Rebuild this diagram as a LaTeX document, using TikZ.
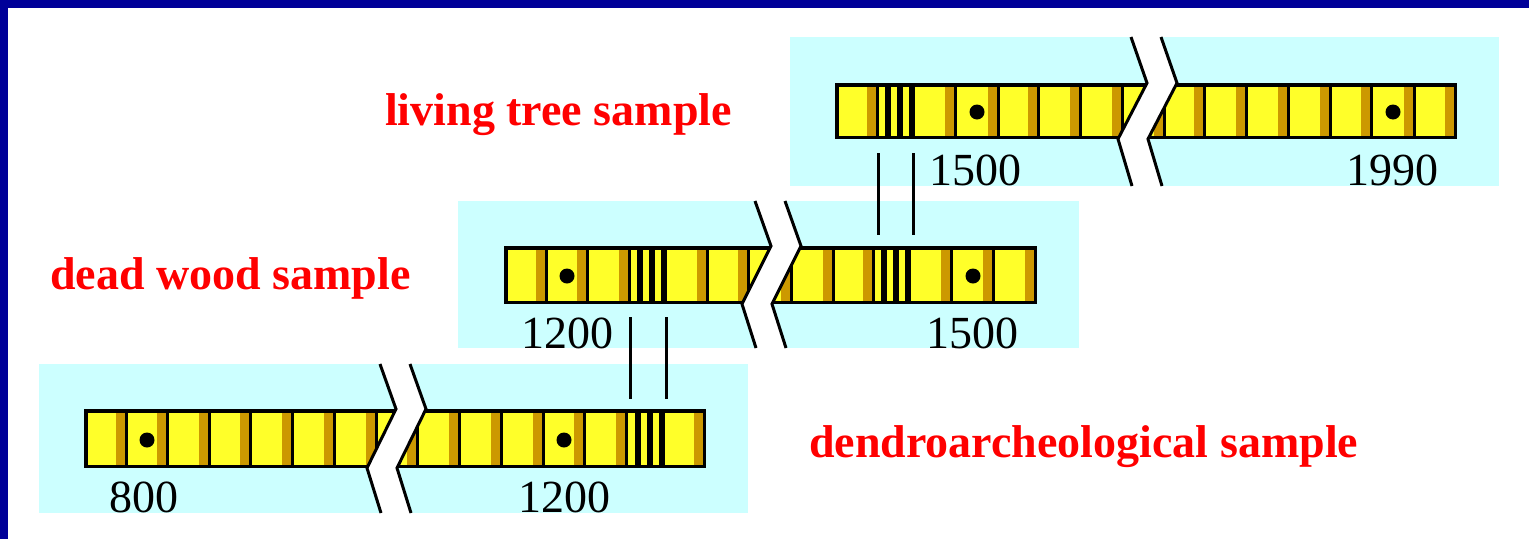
\documentclass[tikz,border=0pt]{standalone}
\usepackage{fontspec}
\setmainfont{Liberation Serif}
\definecolor{frameblue}{HTML}{000099}
\definecolor{skycyan}{HTML}{CCFFFF}
\definecolor{ringyellow}{HTML}{FFFF29}
\definecolor{ringdark}{HTML}{CC9900}
\definecolor{labelred}{HTML}{FF0000}
\tikzset{
  yearlabel/.style={anchor=base, inner sep=0pt, font=\fontsize{46}{46}\selectfont},
  samplelabel/.style={anchor=base west, inner sep=0pt, text=labelred, font=\fontsize{46}{46}\selectfont\bfseries},
  tieline/.style={line width=3pt},
  breakline/.style={line width=3pt, line join=miter},
  barborder/.style={line width=3.5pt},
}
% #1 x0, #2 x1, #3 ytop, #4 ybot, #5 normal cell ends, #6 ring cell ends
\newcommand\drawtreebar[6]{%
  \fill[ringyellow] (#1,#3) rectangle (#2,#4);
  \foreach \e in {#5} {
    \fill[ringdark] (\e-12,#3) rectangle (\e-3,#4);
    \fill[black] (\e-3,#3) rectangle (\e,#4);
  }
  \foreach \e in {#6} {
    \foreach \k in {0,12,24} {
      \fill[black] (\e-6-\k,#3) rectangle (\e-\k,#4);
    }
  }
  \draw[barborder] (#1+1.75,#3+1.75) rectangle (#2-1.75,#4-1.75);
}
% #1 T, #2 panel top, #3 bar top, #4 bar bottom, #5 panel bottom
\newcommand\barbreak[5]{%
  \fill[white] (#1,#2) -- (#1+16,#3) -- (#1-13,#4) -- (#1+1,#5)
     -- (#1+31,#5) -- (#1+17,#4) -- (#1+46,#3) -- (#1+30,#2) -- cycle;
  \draw[breakline] (#1,#2) -- (#1+16,#3) -- (#1-13,#4) -- (#1+1,#5);
  \draw[breakline] (#1+30,#2) -- (#1+46,#3) -- (#1+17,#4) -- (#1+31,#5);
}
\begin{document}
\begin{tikzpicture}[x=1pt,y=-1pt]
\useasboundingbox (0,0) rectangle (1529,539);
\fill[white] (0,0) rectangle (1529,539);
\fill[frameblue] (0,0) rectangle (1529,8);
\fill[frameblue] (0,0) rectangle (8,539);

% panels
\fill[skycyan] (790,37) rectangle (1499,186);
\fill[skycyan] (458,201) rectangle (1079,348);
\fill[skycyan] (39,364) rectangle (748,513);

% living tree sample bar
\drawtreebar{835}{1457}{83}{139}{879,957,1000,1040,1082,1124,1166,1206,1248,1290,1332,1373,1416,1457}{915}
\fill[black] (977,112) circle[radius=7.5pt];
\fill[black] (1393,112) circle[radius=7.5pt];
\barbreak{1131}{37}{83}{139}{186}

% dead wood sample bar
\drawtreebar{504}{1037}{246}{304}{548,589,631,709,750,793,835,875,953,995,1037}{667,911}
\fill[black] (567,276) circle[radius=7.5pt];
\fill[black] (973,276) circle[radius=7.5pt];
\barbreak{755}{201}{246}{304}{348}

% dendroarcheological sample bar
\drawtreebar{84}{706}{409}{468}{128,169,211,252,294,336,378,419,461,503,545,586,628,706}{665}
\fill[black] (147,440) circle[radius=7.5pt];
\fill[black] (564,440) circle[radius=7.5pt];
\barbreak{380}{364}{409}{468}{513}

% tie lines
\coordinate (tA1) at (878,153); \coordinate (mA1) at (878,235);
\coordinate (tA2) at (913,153); \coordinate (mA2) at (913,235);
\coordinate (mB1) at (630,317); \coordinate (bB1) at (630,399);
\coordinate (mB2) at (666,317); \coordinate (bB2) at (666,399);
\draw[tieline] (tA1) -- (mA1);
\draw[tieline] (tA2) -- (mA2);
\draw[tieline] (mB1) -- (bB1);
\draw[tieline] (mB2) -- (bB2);

% years
\node[yearlabel] (yTop1) at (975,185) {1500};
\node[yearlabel] (yTop2) at (1392,185) {1990};
\node[yearlabel] (yMid1) at (567,348) {1200};
\node[yearlabel] (yMid2) at (972,348) {1500};
\node[yearlabel] (yBot1) at (144,512) {800};
\node[yearlabel] (yBot2) at (564,512) {1200};

% sample labels
\node[samplelabel] (lLiving) at (385,125) {living tree sample};
\node[samplelabel] (lDead) at (50,289) {dead wood sample};
\node[samplelabel] (lDendro) at (809,457) {dendroarcheological sample};
\end{tikzpicture}
\end{document}
